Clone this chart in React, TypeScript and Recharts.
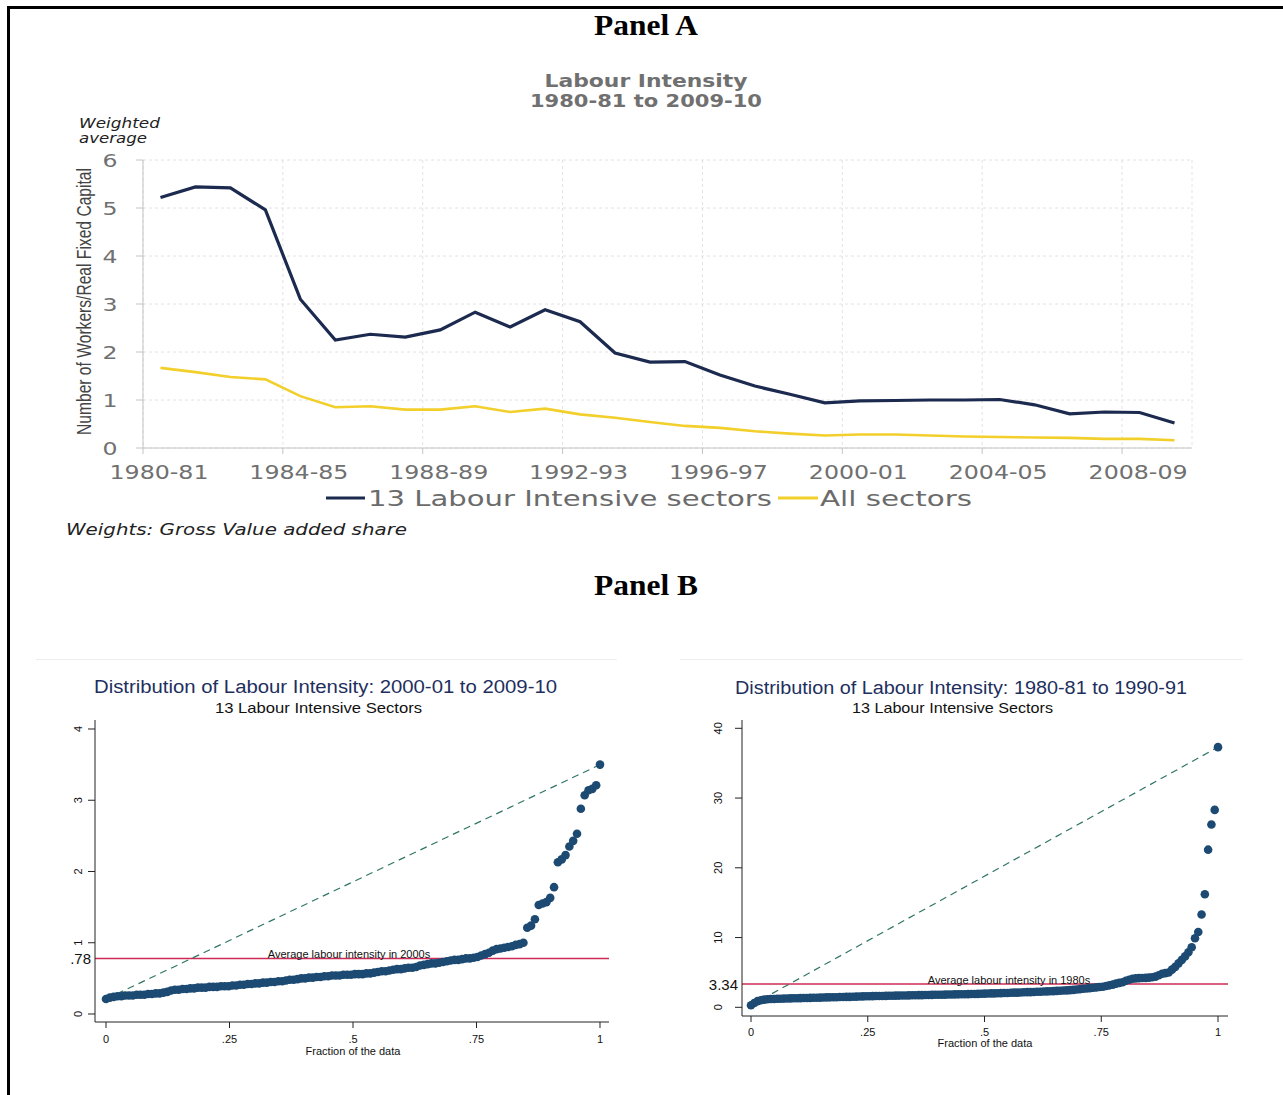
import React from 'react';
import { LineChart, Line, XAxis, YAxis, CartesianGrid, ScatterChart, Scatter, ReferenceLine } from 'recharts';

// ---------- Panel A data ----------
const periods = [
  '1980-81', '1981-82', '1982-83', '1983-84', '1984-85', '1985-86', '1986-87', '1987-88', '1988-89', '1989-90',
  '1990-91', '1991-92', '1992-93', '1993-94', '1994-95', '1995-96', '1996-97', '1997-98', '1998-99', '1999-00',
  '2000-01', '2001-02', '2002-03', '2003-04', '2004-05', '2005-06', '2006-07', '2007-08', '2008-09', '2009-10',
];
const labourIntensive = [
  5.22, 5.44, 5.42, 4.96, 3.10, 2.25, 2.37, 2.31, 2.46, 2.83,
  2.52, 2.88, 2.63, 1.98, 1.79, 1.80, 1.52, 1.29, 1.12, 0.94,
  0.98, 0.99, 1.00, 1.00, 1.01, 0.90, 0.71, 0.75, 0.74, 0.52,
];
const allSectors = [
  1.67, 1.58, 1.48, 1.43, 1.08, 0.85, 0.87, 0.80, 0.80, 0.87,
  0.75, 0.82, 0.70, 0.63, 0.54, 0.46, 0.42, 0.35, 0.30, 0.26,
  0.28, 0.28, 0.26, 0.24, 0.23, 0.22, 0.21, 0.19, 0.19, 0.16,
];
const panelAXTicks = [1980, 1984, 1988, 1992, 1996, 2000, 2004, 2008];
const panelAXTickLabels = ['1980-81', '1984-85', '1988-89', '1992-93', '1996-97', '2000-01', '2004-05', '2008-09'];
const panelAYTicks = [0, 1, 2, 3, 4, 5, 6];
const seriesNames = ['13 Labour Intensive sectors', 'All sectors'];
const seriesColors = ['#1b2a4e', '#f2cf2a'];

// ---------- Panel B data (sorted values, quantile plots) ----------
const values2000s = [
  0.21, 0.23, 0.24, 0.25, 0.25, 0.26, 0.26, 0.26, 0.27, 0.27,
  0.27, 0.28, 0.28, 0.29, 0.29, 0.30, 0.31, 0.33, 0.34, 0.34,
  0.35, 0.35, 0.36, 0.36, 0.37, 0.37, 0.37, 0.38, 0.38, 0.38,
  0.39, 0.39, 0.39, 0.40, 0.40, 0.41, 0.41, 0.42, 0.42, 0.43,
  0.43, 0.44, 0.44, 0.45, 0.45, 0.46, 0.46, 0.47, 0.48, 0.48,
  0.49, 0.50, 0.50, 0.51, 0.51, 0.52, 0.52, 0.53, 0.53, 0.54,
  0.54, 0.54, 0.55, 0.55, 0.55, 0.56, 0.56, 0.56, 0.57, 0.57,
  0.58, 0.59, 0.60, 0.60, 0.61, 0.62, 0.63, 0.63, 0.64, 0.65,
  0.65, 0.66, 0.68, 0.69, 0.70, 0.71, 0.71, 0.72, 0.73, 0.74,
  0.75, 0.76, 0.76, 0.77, 0.78, 0.78, 0.79, 0.80, 0.82, 0.84,
  0.86, 0.89, 0.91, 0.92, 0.93, 0.94, 0.95, 0.97, 0.98, 1.00,
  1.21, 1.24, 1.33, 1.53, 1.55, 1.57, 1.63, 1.78, 2.13, 2.17,
  2.23, 2.35, 2.43, 2.53, 2.88, 3.07, 3.14, 3.16, 3.21, 3.50,
];
const values1980s = [
  0.30, 0.62, 0.88, 1.02, 1.10, 1.15, 1.18,
  1.20, 1.22, 1.23, 1.25, 1.26, 1.28, 1.29, 1.30, 1.32, 1.33, 1.34, 1.35, 1.37, 1.38,
  1.39, 1.40, 1.42, 1.43, 1.44, 1.45, 1.47, 1.48, 1.49, 1.50, 1.52, 1.53, 1.55, 1.56, 1.58,
  1.59, 1.60, 1.61, 1.62, 1.63, 1.64, 1.65, 1.66, 1.67, 1.68, 1.69, 1.70, 1.71, 1.72, 1.73,
  1.74, 1.75, 1.76, 1.77, 1.78, 1.79, 1.80, 1.81, 1.82, 1.83, 1.84, 1.85, 1.86, 1.87, 1.88,
  1.89, 1.90, 1.91, 1.93, 1.94, 1.96,
  1.97, 1.99, 2.00, 2.02, 2.03, 2.05, 2.06, 2.08, 2.10, 2.11, 2.13, 2.15, 2.17, 2.18, 2.20,
  2.22, 2.24, 2.26, 2.28, 2.30, 2.32, 2.35, 2.37, 2.40, 2.43, 2.46, 2.50,
  2.55, 2.60, 2.65, 2.70, 2.75, 2.80, 2.85, 2.90, 2.95, 3.05, 3.15, 3.25, 3.40, 3.50,
  3.60, 3.80, 3.95, 4.10, 4.15, 4.18, 4.20, 4.22, 4.25, 4.30, 4.40, 4.60, 4.80,
  4.90, 5.00, 5.40, 5.80, 6.30, 6.80, 7.30, 7.90, 8.60, 9.90, 10.80, 13.30, 16.20, 22.60,
  26.20, 28.30, 37.30,
];
const avg2000s = 0.78;
const avg1980s = 3.34;
const fracTicks = [0, 0.25, 0.5, 0.75, 1];
const fracTickLabels = ['0', '.25', '.5', '.75', '1'];

const panelAData = periods.map((p, i) => ({
  period: p,
  x: parseInt(p.slice(0, 4), 10) + 0.5,
  li: labourIntensive[i],
  all: allSectors[i],
}));
const toQuantile = (vals: number[]) => vals.map((v, i) => ({ f: i / (vals.length - 1), v }));
const data2000s = toQuantile(values2000s);
const data1980s = toQuantile(values1980s);

const SANS_A = '"DejaVu Sans", Verdana, sans-serif';
const SANS_B = '"Liberation Sans", Arial, sans-serif';
const DOT = '#1c4a72';
const RED = '#cc2b55';
const TEAL = '#2f7566';

// ---------- Panel A ticks ----------
const PanelAXTick = (props: any) => {
  const { x, y, payload } = props;
  const idx = panelAXTicks.indexOf(payload.value);
  return (
    <g>
      <line x1={x} x2={x} y1={y} y2={y + 6} stroke="#c4c4c4" />
      <text x={x + 16} y={y + 31} textAnchor="middle" fontSize={19} fontFamily={SANS_A} fill="#707070"
        textLength={99} lengthAdjust="spacingAndGlyphs">{panelAXTickLabels[idx]}</text>
    </g>
  );
};
const PanelAYTick = (props: any) => {
  const { x, y, payload } = props;
  return (
    <g>
      <line x1={x - 7} x2={x} y1={y} y2={y} stroke="#c4c4c4" />
      <text x={x - 33} y={y + 6.5} textAnchor="middle" fontSize={18} fontFamily={SANS_A} fill="#707070"
        textLength={15} lengthAdjust="spacingAndGlyphs">{payload.value}</text>
    </g>
  );
};

// ---------- Panel B ticks ----------
const makeFracTick = (labelDy: number) => (props: any) => {
  const { x, y, payload } = props;
  const idx = fracTicks.indexOf(payload.value);
  return (
    <g>
      <line x1={x} x2={x} y1={y} y2={y + 6} stroke="#222" />
      <text x={x} y={y + labelDy} textAnchor="middle" fontSize={11} fontFamily={SANS_B} fill="#111">{fracTickLabels[idx]}</text>
    </g>
  );
};
const makeValueTick = (avg: number, avgLabel: string, labelDx: number) => (props: any) => {
  const { x, y, payload } = props;
  if (payload.value === avg) {
    return (
      <text x={x - 4} y={y + 5.5} textAnchor="end" fontSize={15} fontFamily={SANS_B} fill="#111">{avgLabel}</text>
    );
  }
  return (
    <g>
      <line x1={x - 7} x2={x} y1={y} y2={y} stroke="#222" />
      <text x={x - labelDx} y={y} textAnchor="middle" fontSize={11} fontFamily={SANS_B} fill="#111"
        transform={`rotate(-90 ${x - labelDx} ${y})`}>{payload.value}</text>
    </g>
  );
};

const avgLabel = (text: string, dx: number) => (props: any) => {
  const vb = props.viewBox || {};
  return (
    <text x={vb.x + vb.width / 2 + dx} y={vb.y} textAnchor="middle" fontSize={11} fontFamily={SANS_B} fill="#111">{text}</text>
  );
};

const Dot = (props: any) => <circle cx={props.cx} cy={props.cy} r={4.3} fill={DOT} />;

export default function App() {
  return (
    <div style={{ position: 'absolute', left: 0, top: 0, width: 1283, height: 1095, background: '#fff', overflow: 'hidden' }}>
      {/* Panel A chart */}
      <div style={{ position: 'absolute', left: 0, top: 0 }}>
        <LineChart width={1283} height={560} data={panelAData} margin={{ top: 160, left: 142, right: 91, bottom: 111 }}>
          <CartesianGrid stroke="#e2e2e2" strokeDasharray="3 3" />
          <XAxis dataKey="x" type="number" domain={[1980, 2010]} ticks={panelAXTicks} height={1}
            axisLine={{ stroke: '#c4c4c4' }} tickLine={false} tickSize={0} tickMargin={0} tick={<PanelAXTick />} interval={0} />
          <YAxis type="number" domain={[0, 6]} ticks={panelAYTicks} width={1}
            axisLine={{ stroke: '#c4c4c4' }} tickLine={false} tickSize={0} tickMargin={0} tick={<PanelAYTick />} interval={0} />
          <Line type="linear" dataKey="li" name={seriesNames[0]} stroke={seriesColors[0]} strokeWidth={3.2} dot={false} isAnimationActive={false} />
          <Line type="linear" dataKey="all" name={seriesNames[1]} stroke={seriesColors[1]} strokeWidth={2.6} dot={false} isAnimationActive={false} />
        </LineChart>
      </div>

      {/* Panel B left */}
      <div style={{ position: 'absolute', left: 0, top: 640 }}>
        <ScatterChart width={640} height={455} margin={{ top: 80, left: 94, right: 31, bottom: 72 }}>
          <XAxis dataKey="f" type="number" domain={[-0.02227, 1.01822]} ticks={fracTicks} height={1} allowDataOverflow
            axisLine={{ stroke: '#222' }} tickLine={false} tickSize={0} tickMargin={0} tick={makeFracTick(21)} interval={0} />
          <YAxis dataKey="v" type="number" domain={[-0.1123, 4.1263]} ticks={[0, avg2000s, 1, 2, 3, 4]} width={1} allowDataOverflow
            axisLine={{ stroke: '#222' }} tickLine={false} tickSize={0} tickMargin={0} tick={makeValueTick(avg2000s, '.78', 13)} interval={0} />
          <ReferenceLine y={avg2000s} stroke={RED} strokeWidth={1.5} label={avgLabel('Average labour intensity in 2000s', -3)} />
          <ReferenceLine segment={[{ x: 0, y: values2000s[0] }, { x: 1, y: values2000s[values2000s.length - 1] }]}
            stroke={TEAL} strokeWidth={1.2} strokeDasharray="7 5" />
          <Scatter data={data2000s} shape={<Dot />} isAnimationActive={false} />
        </ScatterChart>
      </div>

      {/* Panel B right */}
      <div style={{ position: 'absolute', left: 640, top: 640 }}>
        <ScatterChart width={643} height={455} margin={{ top: 80, left: 101, right: 55, bottom: 78 }}>
          <XAxis dataKey="f" type="number" domain={[-0.0193, 1.02141]} ticks={fracTicks} height={1} allowDataOverflow
            axisLine={{ stroke: '#222' }} tickLine={false} tickSize={0} tickMargin={0} tick={makeFracTick(20)} interval={0} />
          <YAxis dataKey="v" type="number" domain={[-1.247, 41.19]} ticks={[0, avg1980s, 10, 20, 30, 40]} width={1} allowDataOverflow
            axisLine={{ stroke: '#222' }} tickLine={false} tickSize={0} tickMargin={0} tick={makeValueTick(avg1980s, '3.34', 20)} interval={0} />
          <ReferenceLine y={avg1980s} stroke={RED} strokeWidth={1.5} label={avgLabel('Average labour intensity in 1980s', 24)} />
          <ReferenceLine segment={[{ x: 0, y: values1980s[0] }, { x: 1, y: values1980s[values1980s.length - 1] }]}
            stroke={TEAL} strokeWidth={1.2} strokeDasharray="7 5" />
          <Scatter data={data1980s} shape={<Dot />} isAnimationActive={false} />
        </ScatterChart>
      </div>

      {/* Text and decorations overlay */}
      <svg width={1283} height={1095} style={{ position: 'absolute', left: 0, top: 0, pointerEvents: 'none' }}>
        <rect x={7} y={6} width={1276} height={3} fill="#000" />
        <rect x={7} y={6} width={3} height={1089} fill="#000" />

        <text x={646} y={35} textAnchor="middle" fontSize={29} fontWeight="bold" fontFamily='"Liberation Serif", serif'
          fill="#000" textLength={104} lengthAdjust="spacingAndGlyphs">Panel A</text>
        <text x={646} y={86.5} textAnchor="middle" fontSize={17} fontWeight="bold" fontFamily={SANS_A}
          fill="#707070" textLength={203} lengthAdjust="spacingAndGlyphs">Labour Intensity</text>
        <text x={646} y={107} textAnchor="middle" fontSize={17} fontWeight="bold" fontFamily={SANS_A}
          fill="#707070" textLength={232} lengthAdjust="spacingAndGlyphs">1980-81 to 2009-10</text>
        <text x={79} y={128} fontSize={14} fontStyle="italic" fontFamily={SANS_A} fill="#222"
          textLength={81} lengthAdjust="spacingAndGlyphs">Weighted</text>
        <text x={79} y={143} fontSize={14} fontStyle="italic" fontFamily={SANS_A} fill="#222"
          textLength={68} lengthAdjust="spacingAndGlyphs">average</text>
        <text x={91} y={301.5} textAnchor="middle" fontSize={20} fontFamily='"Liberation Sans Narrow", "Liberation Sans", sans-serif'
          fill="#444" textLength={267} lengthAdjust="spacingAndGlyphs" transform="rotate(-90 91 301.5)">Number of Workers/Real Fixed Capital</text>

        <line x1={326} x2={365} y1={498} y2={498} stroke={seriesColors[0]} strokeWidth={3} />
        <text x={368} y={506} fontSize={22} fontFamily={SANS_A} fill="#6b6b6b"
          textLength={404} lengthAdjust="spacingAndGlyphs">{seriesNames[0]}</text>
        <line x1={778} x2={818} y1={498} y2={498} stroke={seriesColors[1]} strokeWidth={3} />
        <text x={820} y={506} fontSize={22} fontFamily={SANS_A} fill="#6b6b6b"
          textLength={152} lengthAdjust="spacingAndGlyphs">{seriesNames[1]}</text>

        <text x={66} y={535} fontSize={15} fontStyle="italic" fontFamily={SANS_A} fill="#222"
          textLength={341} lengthAdjust="spacingAndGlyphs">Weights: Gross Value added share</text>

        <text x={646} y={595} textAnchor="middle" fontSize={29} fontWeight="bold" fontFamily='"Liberation Serif", serif'
          fill="#000" textLength={104} lengthAdjust="spacingAndGlyphs">Panel B</text>

        <line x1={36} x2={617} y1={659.5} y2={659.5} stroke="#eceef0" />
        <line x1={680} x2={1243} y1={659.5} y2={659.5} stroke="#eceef0" />

        <text x={325.5} y={693} textAnchor="middle" fontSize={18} fontFamily={SANS_B} fill="#1e2f5e"
          textLength={463} lengthAdjust="spacingAndGlyphs">Distribution of Labour Intensity: 2000-01 to 2009-10</text>
        <text x={318.5} y={713} textAnchor="middle" fontSize={15} fontFamily={SANS_B} fill="#111"
          textLength={207} lengthAdjust="spacingAndGlyphs">13 Labour Intensive Sectors</text>
        <text x={961} y={694} textAnchor="middle" fontSize={18} fontFamily={SANS_B} fill="#1e2f5e"
          textLength={452} lengthAdjust="spacingAndGlyphs">Distribution of Labour Intensity: 1980-81 to 1990-91</text>
        <text x={952.5} y={713} textAnchor="middle" fontSize={15} fontFamily={SANS_B} fill="#111"
          textLength={201} lengthAdjust="spacingAndGlyphs">13 Labour Intensive Sectors</text>

        <text x={353} y={1055} textAnchor="middle" fontSize={11} fontFamily={SANS_B} fill="#111">Fraction of the data</text>
        <text x={985} y={1047} textAnchor="middle" fontSize={11} fontFamily={SANS_B} fill="#111">Fraction of the data</text>
      </svg>
    </div>
  );
}
